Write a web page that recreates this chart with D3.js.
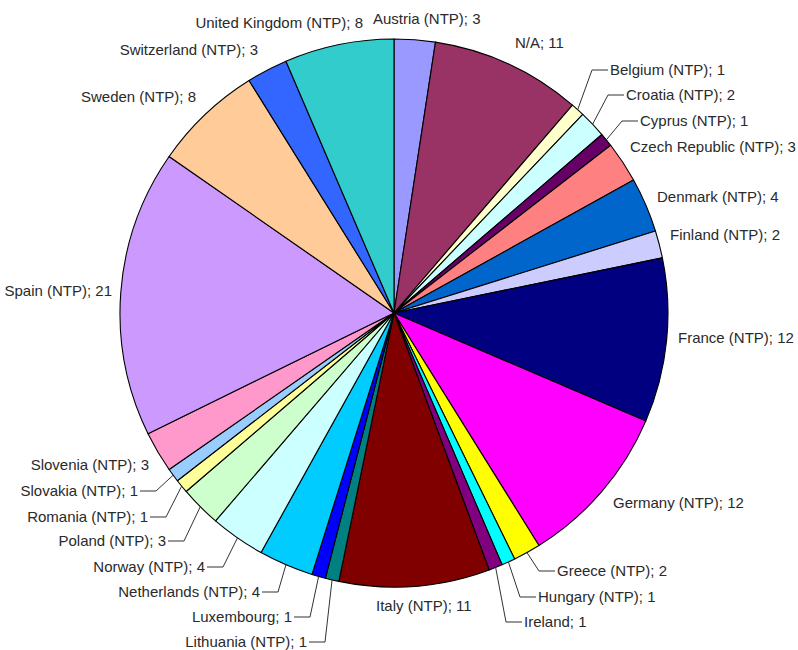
<!DOCTYPE html>
<html>
<head>
<meta charset="utf-8">
<script src="https://cdn.jsdelivr.net/npm/d3@7"></script>
<style>
  html, body { margin: 0; padding: 0; background: #fff; }
  svg text { font-family: "Liberation Sans", Arial, sans-serif; font-size: 15px; fill: #2a2a2a; }
</style>
</head>
<body>
<div id="chart"></div>
<script>
/* ── data (clockwise from 12 o'clock) ───────────────────────── */
const names = [
  'Austria (NTP)', 'N/A', 'Belgium (NTP)', 'Croatia (NTP)', 'Cyprus (NTP)',
  'Czech Republic (NTP)', 'Denmark (NTP)', 'Finland (NTP)', 'France (NTP)',
  'Germany (NTP)', 'Greece (NTP)', 'Hungary (NTP)', 'Ireland', 'Italy (NTP)',
  'Lithuania (NTP)', 'Luxembourg', 'Netherlands (NTP)', 'Norway (NTP)',
  'Poland (NTP)', 'Romania (NTP)', 'Slovakia (NTP)', 'Slovenia (NTP)',
  'Spain (NTP)', 'Sweden (NTP)', 'Switzerland (NTP)', 'United Kingdom (NTP)'
];
const counts = [3, 11, 1, 2, 1, 3, 4, 2, 12, 12, 2, 1, 1, 11, 1, 1, 4, 4, 3, 1, 1, 3, 21, 8, 3, 8];
const colors = [
  '#9999ff', '#993366', '#ffffcc', '#ccffff', '#660066', '#ff8080', '#0066cc',
  '#ccccff', '#000080', '#ff00ff', '#ffff00', '#00ffff', '#800080', '#800000',
  '#008080', '#0000ff', '#00ccff', '#ccffff', '#ccffcc', '#ffff99', '#99ccff',
  '#ff99cc', '#cc99ff', '#ffcc99', '#3366ff', '#33cccc'
];

/* ── label layout: text position [x, midY, anchor, leader?] ─── */
const labelAt = {
  'Austria (NTP)':        [373, 19, 'start'],
  'N/A':                  [515, 43, 'start'],
  'Belgium (NTP)':        [610, 70, 'start', true],
  'Croatia (NTP)':        [626, 95, 'start', true],
  'Cyprus (NTP)':         [640, 121, 'start', true],
  'Czech Republic (NTP)': [630, 147, 'start'],
  'Denmark (NTP)':        [657, 197, 'start'],
  'Finland (NTP)':        [670, 235, 'start'],
  'France (NTP)':         [678, 338, 'start'],
  'Germany (NTP)':        [613, 503, 'start'],
  'Greece (NTP)':         [557, 571, 'start', true],
  'Hungary (NTP)':        [538, 597, 'start', true],
  'Ireland':              [524, 622, 'start', true],
  'Italy (NTP)':          [376, 606, 'start'],
  'Lithuania (NTP)':      [307, 642, 'end', true],
  'Luxembourg':           [292, 617, 'end', true],
  'Netherlands (NTP)':    [260, 592, 'end', true],
  'Norway (NTP)':         [205, 567, 'end', true],
  'Poland (NTP)':         [166, 541, 'end', true],
  'Romania (NTP)':        [148, 517, 'end', true],
  'Slovakia (NTP)':       [138, 491, 'end', true],
  'Slovenia (NTP)':       [149, 465, 'end'],
  'Spain (NTP)':          [112, 291, 'end'],
  'Sweden (NTP)':         [196, 97, 'end'],
  'Switzerland (NTP)':    [258, 50, 'end'],
  'United Kingdom (NTP)': [363, 23, 'end']
};

/* ── layout ────────────────────────────────────────────────── */
const W = 798, H = 650;
const CX = 394, CY = 313, R = 274;

const svg = d3.select('#chart').append('svg')
  .attr('width', W).attr('height', H);

const rows = names.map((n, i) => ({ name: n, value: counts[i], color: colors[i] }));

const pie = d3.pie().sort(null).value(d => d.value);
const arc = d3.arc().innerRadius(0).outerRadius(R);
const arcs = pie(rows);

const g = svg.append('g').attr('transform', `translate(${CX},${CY})`);

g.selectAll('path.slice')
  .data(arcs)
  .enter().append('path')
  .attr('class', 'slice')
  .attr('d', arc)
  .attr('fill', d => d.data.color)
  .attr('stroke', '#000')
  .attr('stroke-width', 1.1)
  .attr('stroke-linejoin', 'round');

// leader lines: edge point at mid-angle -> elbow -> short horizontal run
const edge = d => {
  const a = (d.startAngle + d.endAngle) / 2;
  return [CX + R * Math.sin(a), CY - R * Math.cos(a)];
};

const leaders = arcs.filter(d => labelAt[d.data.name][3]);
svg.selectAll('polyline.leader')
  .data(leaders)
  .enter().append('polyline')
  .attr('class', 'leader')
  .attr('fill', 'none')
  .attr('stroke', '#333')
  .attr('stroke-width', 1)
  .attr('points', d => {
    const [tx, ty, anchor] = labelAt[d.data.name];
    const [ex, ey] = edge(d);
    const dir = anchor === 'start' ? -1 : 1;
    const x1 = tx + dir * 2, x0 = tx + dir * 18;
    return `${ex},${ey} ${x0},${ty} ${x1},${ty}`;
  });

svg.selectAll('text.lbl')
  .data(arcs)
  .enter().append('text')
  .attr('class', 'lbl')
  .attr('x', d => labelAt[d.data.name][0])
  .attr('y', d => labelAt[d.data.name][1])
  .attr('dy', '0.35em')
  .attr('text-anchor', d => labelAt[d.data.name][2])
  .text(d => `${d.data.name}; ${d.data.value}`);
</script>
</body>
</html>
